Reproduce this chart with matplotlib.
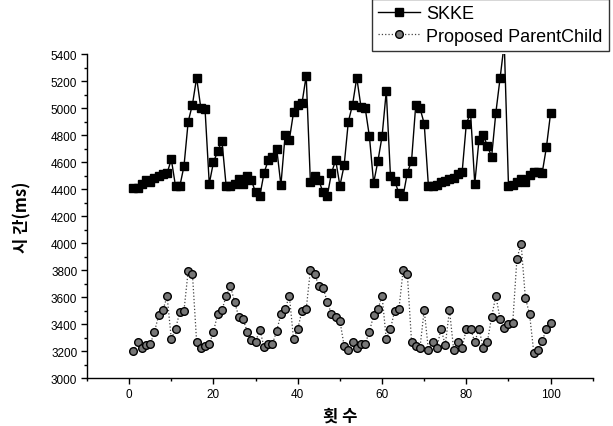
import matplotlib
matplotlib.use("Agg")
import matplotlib.pyplot as plt
from matplotlib.ticker import MultipleLocator
import numpy as np

# run index 1..100
runs = np.arange(1, 101)

skke = [4410, 4410, 4440, 4470, 4450, 4480, 4500, 4510, 4520, 4620,
        4420, 4420, 4570, 4900, 5025, 5225, 5000, 4990, 4440, 4600,
        4680, 4760, 4425, 4425, 4440, 4475, 4440, 4495, 4465, 4375,
        4350, 4520, 4615, 4640, 4700, 4430, 4800, 4765, 4970, 5020,
        5035, 5240, 4450, 4500, 4465, 4375, 4350, 4520, 4615, 4425,
        4575, 4900, 5025, 5225, 5010, 5000, 4790, 4445, 4605, 4790,
        5125, 4495, 4460, 4370, 4350, 4520, 4610, 5025, 5000, 4885,
        4425, 4425, 4430, 4455, 4460, 4475, 4485, 4510, 4525, 4885,
        4965, 4440, 4765, 4800, 4720, 4640, 4965, 5220, 5480, 4425,
        4430, 4450, 4475, 4455, 4505, 4525, 4525, 4520, 4710, 4965]

parent_child = [3200, 3270, 3220, 3245, 3250, 3345, 3465, 3505, 3605, 3290,
                3365, 3490, 3500, 3795, 3775, 3270, 3220, 3240, 3250, 3345,
                3475, 3505, 3605, 3685, 3565, 3455, 3440, 3345, 3285, 3270,
                3360, 3230, 3250, 3255, 3350, 3475, 3510, 3610, 3290, 3365,
                3500, 3510, 3800, 3770, 3685, 3670, 3565, 3475, 3450, 3425,
                3240, 3210, 3270, 3225, 3250, 3255, 3345, 3465, 3510, 3610,
                3290, 3365, 3500, 3510, 3800, 3770, 3270, 3240, 3225, 3505,
                3210, 3270, 3225, 3365, 3245, 3505, 3210, 3265, 3225, 3365,
                3365, 3270, 3365, 3225, 3270, 3455, 3610, 3440, 3375, 3400,
                3405, 3885, 3995, 3595, 3475, 3190, 3210, 3275, 3365, 3405]

labels = ["SKKE", "Proposed ParentChild"]

plt.rcParams['font.family'] = ['Liberation Sans', 'DejaVu Sans']

fig = plt.figure(figsize=(6.13, 4.27), dpi=100)
ax = fig.add_axes([0.142, 0.112, 0.825, 0.759])

l1, = ax.plot(runs, skke, color='black', lw=1.0, marker='s', markersize=5.5,
              markerfacecolor='black', markeredgecolor='black')
l2, = ax.plot(runs, parent_child, color='#444444', lw=0.9, ls=':', marker='o',
              markersize=5.5, markerfacecolor='#777777', markeredgecolor='black',
              markeredgewidth=1.0)

ax.set_xlim(-10, 110)
ax.set_ylim(3000, 5400)
ax.xaxis.set_major_locator(MultipleLocator(20))
ax.xaxis.set_minor_locator(MultipleLocator(10))
ax.yaxis.set_major_locator(MultipleLocator(200))
ax.yaxis.set_minor_locator(MultipleLocator(100))
ax.tick_params(which='major', direction='out', length=4, width=1, labelsize=8.5, pad=3)
ax.tick_params(which='minor', direction='out', length=2.5, width=1)

for side in ['top', 'right']:
    ax.spines[side].set_visible(False)
for side in ['left', 'bottom']:
    ax.spines[side].set_linewidth(1.0)

ax.set_xlabel("횟 수", family=['Noto Sans CJK KR', 'DejaVu Sans'],
              fontsize=12, fontweight='bold', labelpad=5)
ax.set_ylabel("시 간(ms)", family=['Noto Sans CJK KR', 'DejaVu Sans'],
              fontsize=12, fontweight='bold', labelpad=14)

leg = fig.legend([l1, l2], labels, loc='upper right', bbox_to_anchor=(0.993, 1.0),
                 fontsize=13, frameon=True, fancybox=False, edgecolor='black',
                 borderpad=0.35, labelspacing=0.3, handlelength=2.3,
                 handletextpad=0.35, borderaxespad=0.0)
leg.get_frame().set_linewidth(1.0)

fig.savefig("out.png", dpi=100)
